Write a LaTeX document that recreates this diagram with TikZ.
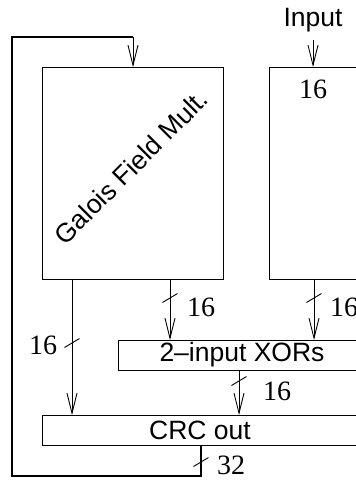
\documentclass[tikz,border=0pt]{standalone}
\usepackage{fontspec}
\setmainfont{Liberation Serif}
\setsansfont{Liberation Sans}
\usetikzlibrary{arrows.meta}
\tikzset{
  box/.style={draw, line width=1.1pt, rectangle, inner sep=0pt, anchor=north west},
  arr/.style={line width=0.9pt, -{Straight Barb[length=20pt,width=10pt,line width=0.9pt]}},
  wire/.style={line width=1.1pt},
  lbl/.style={font=\sffamily\fontsize{26.5}{30}\selectfont, inner sep=0pt},
  num/.style={font=\rmfamily\fontsize{28}{30}\selectfont, inner sep=0pt},
  tick/.style={line width=0.9pt}
}
\begin{document}
\begin{tikzpicture}[x=1pt,y=-1pt]
\useasboundingbox (0,0) rectangle (356,480);
\clip (0,0) rectangle (356,480);
% boxes
\node[box, minimum width=181pt, minimum height=212pt] (gf) at (42,67) {};
\node[box, minimum width=150pt, minimum height=212pt] (inp) at (269,67) {};
\node[box, minimum width=300pt, minimum height=30pt] (xor) at (118,340) {};
\node[box, minimum width=380pt, minimum height=30pt] (crc) at (42,415) {};
% texts
\node[lbl, rotate=45] (gft) at (131,167) {Galois Field Mult.};
\node[lbl] (xort) at (242,355) {2\textendash input XORs};
\node[lbl] (crct) at (200,430) {CRC out};
\node[lbl] (intxt) at (313,20) {Input};
\node[num] (n0) at (313,89) {16};
\node[num] (n1) at (43,345) {16};
\node[num] (n2) at (201,307) {16};
\node[num] (n3) at (344,307) {16};
\node[num] (n4) at (277,391) {16};
\node[num] (n5) at (231,465) {32};
% coordinates
\coordinate (xa) at (72,0);
\coordinate (xb) at (170,0);
\coordinate (xc) at (314,0);
\coordinate (xd) at (239,0);
\coordinate (xe) at (201,0);
\coordinate (xf) at (133,0);
\coordinate (intop) at (313,40);
\coordinate (fb1) at (201,476);
\coordinate (fb2) at (12,476);
\coordinate (fb3) at (12,37);
\coordinate (fb4) at (133,37);
% connectors
\draw[arr] (intop) -- (inp.north -| intop);
\draw[arr] (gf.south -| xa) -- (crc.north -| xa);
\draw[arr] (gf.south -| xb) -- (xor.north -| xb);
\draw[arr] (inp.south -| xc) -- (xor.north -| xc);
\draw[arr] (xor.south -| xd) -- (crc.north -| xd);
\draw[wire] (crc.south -| xe) -- (fb1) -- (fb2) -- (fb3) -- (fb4);
\draw[arr] (fb4) -- (gf.north -| xf);
% bus ticks
\coordinate (t1) at (72,343);
\coordinate (t2) at (170,298);
\coordinate (t3) at (314,298);
\coordinate (t4) at (239,381);
\coordinate (t5) at (201,462);
\foreach \t in {t1,t2,t3,t4,t5}
  \draw[tick] ([shift={(-7.5,4.5)}]\t) -- ([shift={(7.5,-4.5)}]\t);
\end{tikzpicture}
\end{document}
